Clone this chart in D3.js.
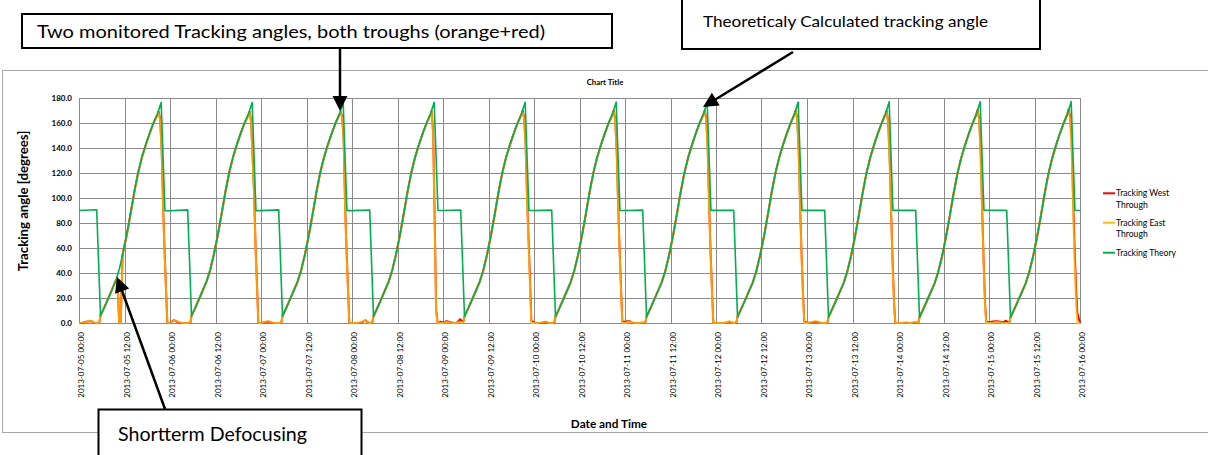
<!DOCTYPE html>
<html><head><meta charset="utf-8">
<script src="https://cdn.jsdelivr.net/npm/d3@7"></script>
<style>
html,body{margin:0;padding:0;background:#fff;}
svg{display:block;font-family:Lato,"Liberation Sans",sans-serif;}
</style></head><body>
<svg id="chart" width="1208" height="455"></svg>
<script>
// ---------- data ----------
const days = ["2013-07-05","2013-07-06","2013-07-07","2013-07-08","2013-07-09","2013-07-10",
              "2013-07-11","2013-07-12","2013-07-13","2013-07-14","2013-07-15"];
const endStamp = "2013-07-16 00:00";
const yTicks = [0,20,40,60,80,100,120,140,160,180];
const seriesNames = ["Tracking West Through","Tracking East Through","Tracking Theory"];

// hour of day of each theory sample
const theoryHours = [0,4.67,5.67,6.67,7.67,8.67,9.67,10.67,11.67,12.67,13.67,14.67,15.67,16.67,17.67,18.67,19.67,20.67,21.67,22.67];
const theoryDays = [
 [90,90.6,5.8,12.4,19.3,26.4,33.6,43.6,56.8,71.8,88.8,106.3,121.4,133.5,143.3,152.2,160.3,167.2,176.3,89.8],
 [89.8,90.5,5.6,12.2,19.1,26.2,33.4,43.3,56.4,71.4,88.4,106.0,121.2,133.3,143.1,152.1,160.2,167.1,176.4,89.9],
 [89.9,90.5,5.5,12.1,19.0,26.1,33.2,43.1,56.2,71.1,88.1,105.8,121.0,133.2,143.0,152.0,160.1,167.1,176.5,89.9],
 [89.9,90.4,5.3,11.9,18.8,25.9,33.0,42.9,55.9,70.8,87.8,105.5,120.8,133.0,142.9,151.9,160.0,167.0,176.6,90.0],
 [90.0,90.4,5.2,11.8,18.7,25.7,32.8,42.7,55.6,70.5,87.5,105.2,120.6,132.9,142.8,151.8,160.0,167.0,176.6,90.0],
 [90.0,90.3,5.0,11.6,18.5,25.5,32.6,42.4,55.3,70.2,87.2,105.0,120.4,132.7,142.7,151.7,159.9,167.0,176.7,90.0],
 [90.0,90.3,4.9,11.5,18.4,25.4,32.4,42.2,55.0,69.9,86.9,104.7,120.2,132.6,142.6,151.7,159.9,167.0,176.8,90.1],
 [90.1,90.2,4.8,11.4,18.2,25.2,32.2,42.0,54.8,69.6,86.6,104.4,120.0,132.4,142.5,151.6,159.8,167.0,176.8,90.1],
 [90.1,90.2,4.6,11.2,18.1,25.0,32.0,41.8,54.5,69.3,86.3,104.1,119.8,132.3,142.4,151.6,159.8,167.0,176.9,90.1],
 [90.1,90.1,4.5,11.1,17.9,24.8,31.8,41.6,54.2,69.0,86.0,103.8,119.6,132.1,142.3,151.5,159.8,167.1,177.0,90.2],
 [90.2,90.1,4.4,11.0,17.8,24.7,31.6,41.4,54.0,68.7,85.7,103.5,119.4,132.0,142.2,151.5,159.7,167.1,177.1,90.2]
];
const theoryEnd = 90;

// hour of day of each measured sample
const measHours = [0,1,2,3,3.5,4,4.5,5,5.4,5.67,6.67,7.67,8.67,9.67,10.2,10.6,11,11.5,12.67,13.67,14.67,15.67,16.67,17.67,18.67,19.67,20.67,21,21.4,21.8,22.2,22.6,23,23.3];
const eastDays = [
 [0,0.5,0.8,2.0,1.5,0.3,0,0,1.2,5.9,12.5,19.4,26.5,34.0,30.0,0,0,54.0,71.6,88.6,106.1,121.2,133.3,143.1,152.0,160.1,166.3,168.0,162.0,138.0,90.0,53.0,22.0,0],
 [0,1.8,1.2,0.3,0,0,0,0,0.8,5.7,12.3,19.2,26.3,33.5,38.6,42.3,47.8,53.7,71.3,88.3,105.8,121.0,133.1,143.0,151.9,160.0,166.2,168.1,160.0,130.0,100.0,56.0,25.0,0],
 [0,1.0,1.5,0.4,0,0,0,0,1.0,5.6,12.2,19.1,26.2,33.3,38.4,42.1,47.6,53.5,71.0,88.0,105.6,120.9,133.0,142.9,151.8,159.9,166.3,168.2,164.0,146.0,90.0,53.0,21.0,0],
 [0,0,0.3,1.6,1.8,0.5,0,0,1.0,5.4,12.0,18.9,26.0,33.1,38.2,41.9,47.3,53.2,70.7,87.7,105.3,120.7,132.9,142.8,151.8,159.9,166.5,168.6,150.0,80.0,8.0,0,0,0],
 [0,0.8,0.4,0,0,0.6,1.0,0.2,1.0,5.3,11.9,18.8,25.8,32.9,38.0,41.6,47.0,52.9,70.4,87.4,105.0,120.5,132.8,142.7,151.7,159.9,166.6,169.0,163.0,140.0,95.0,60.0,25.0,0],
 [0,0,0.5,1.2,0.6,0,0,0,0.8,5.1,11.7,18.6,25.6,32.7,37.8,41.3,46.7,52.6,70.1,87.1,104.8,120.3,132.6,142.6,151.6,159.8,166.6,169.0,162.0,138.0,92.0,55.0,22.0,0],
 [0,1.2,0.4,0,0,0,0.5,0.3,0.9,5.0,11.6,18.5,25.5,32.5,37.6,41.1,46.4,52.3,69.8,86.8,104.5,120.1,132.5,142.5,151.6,159.8,166.7,169.5,163.0,140.0,92.0,52.0,20.0,0],
 [0,0,0,0.6,1.4,0.8,0,0,0.8,4.9,11.5,18.3,25.3,32.3,37.4,40.9,46.2,52.1,69.5,86.5,104.2,119.9,132.3,142.4,151.5,159.7,166.7,169.5,163.0,138.0,90.0,50.0,18.0,0],
 [0,0.6,1.4,1.0,0.2,0,0,0,0.7,4.7,11.3,18.2,25.1,32.1,37.2,40.7,45.9,51.8,69.2,86.2,103.9,119.7,132.2,142.3,151.5,159.7,166.8,169.3,160.0,130.0,85.0,45.0,12.0,0],
 [0,0,0.4,0,0,0.5,0.9,0.2,0.7,4.6,11.2,18.0,24.9,31.9,37.0,40.5,45.7,51.5,68.9,85.9,103.6,119.5,132.0,142.2,151.4,159.7,166.9,169.8,162.0,135.0,88.0,45.0,10.0,0],
 [0,0.3,0.8,0.5,0,0,0,0,0.6,4.5,11.1,17.9,24.8,31.7,36.8,40.3,45.5,51.3,68.6,85.6,103.3,119.3,131.9,142.1,151.4,159.6,166.9,170.0,163.0,140.0,90.0,48.0,15.0,0]
];
const eastEnd = 0;
const westDays = [
 [0,0.2,1.0,1.6,1.2,0.2,0,0,1.0,5.9,12.5,19.4,26.5,34.0,31.0,0,0,55.0,71.6,88.6,106.1,121.2,133.3,143.1,152.0,160.1,166.4,169.0,163.0,139.0,92.0,55.0,23.0,0],
 [0,2.2,0.8,0.1,0,0,0,0,0.6,5.7,12.3,19.2,26.3,33.5,38.6,42.3,47.8,53.7,71.3,88.3,105.8,121.0,133.1,143.0,151.9,160.0,166.3,169.0,161.0,132.0,102.0,58.0,26.0,0],
 [0,0.6,1.2,0.2,0,0,0,0,0.8,5.6,12.2,19.1,26.2,33.3,38.4,42.1,47.6,53.5,71.0,88.0,105.6,120.9,133.0,142.9,151.8,159.9,166.4,169.0,165.0,147.0,92.0,55.0,23.0,0],
 [0,0,0.2,1.2,2.2,0.8,0,0,0.9,5.4,12.0,18.9,26.0,33.1,38.2,41.9,47.3,53.2,70.7,87.7,105.3,120.7,132.9,142.8,151.8,159.9,166.6,169.5,152.0,84.0,10.0,0,0,1.0],
 [0.5,1.5,0.6,0,0,1.2,3.0,1.5,1.2,5.3,11.9,18.8,25.8,32.9,38.0,41.6,47.0,52.9,70.4,87.4,105.0,120.5,132.8,142.7,151.7,159.9,166.7,170.0,164.0,142.0,98.0,64.0,30.0,2.0],
 [0.5,0,0.3,0.8,0.4,0,0,0,0.6,5.1,11.7,18.6,25.6,32.7,37.8,41.3,46.7,52.6,70.1,87.1,104.8,120.3,132.6,142.6,151.6,159.8,166.7,170.0,163.0,139.0,94.0,57.0,24.0,1.0],
 [1.0,1.6,0.2,0,0,0,0.3,0.1,0.8,5.0,11.6,18.5,25.5,32.5,37.6,41.1,46.4,52.3,69.8,86.8,104.5,120.1,132.5,142.5,151.6,159.8,166.8,170.0,164.0,141.0,93.0,54.0,22.0,0],
 [0,0,0,0.4,1.0,0.6,0,0,0.6,4.9,11.5,18.3,25.3,32.3,37.4,40.9,46.2,52.1,69.5,86.5,104.2,119.9,132.3,142.4,151.5,159.7,166.8,170.0,164.0,139.0,92.0,52.0,20.0,1.0],
 [0.3,0.4,1.0,0.8,0.1,0,0,0,0.5,4.7,11.3,18.2,25.1,32.1,37.2,40.7,45.9,51.8,69.2,86.2,103.9,119.7,132.2,142.3,151.5,159.7,166.9,170.0,161.0,132.0,87.0,47.0,14.0,0],
 [0,0,0.2,0,0,0.3,0.6,0.1,0.5,4.6,11.2,18.0,24.9,31.9,37.0,40.5,45.7,51.5,68.9,85.9,103.6,119.5,132.0,142.2,151.4,159.7,167.0,170.5,163.0,137.0,90.0,48.0,13.0,1.0],
 [0.5,1.2,1.5,1.0,0.5,1.0,1.8,0.6,0.8,4.5,11.1,17.9,24.8,31.7,36.8,40.3,45.5,51.3,68.6,85.6,103.3,119.3,131.9,142.1,151.4,159.6,167.0,171.0,165.0,145.0,98.0,58.0,25.0,8.0]
];
const westEnd = 0;

// ---------- build ----------
const parse = d3.utcParse("%Y-%m-%d %H:%M");
function build(dayArrays, hours, endVal){
  const pts = [];
  dayArrays.forEach((vals, d) => {
    const t0 = parse(days[d] + " 00:00").getTime();
    vals.forEach((v, i) => pts.push({t: new Date(t0 + hours[i] * 3600000), v: v}));
  });
  pts.push({t: parse(endStamp), v: endVal});
  return pts;
}
const west = build(westDays, measHours, westEnd);
const east = build(eastDays, measHours, eastEnd);
const theory = build(theoryDays, theoryHours, theoryEnd);

const svg = d3.select("#chart");
const L = 79, R = 1080, T = 98, B = 323;
const x = d3.scaleUtc().domain([parse(days[0] + " 00:00"), parse(endStamp)]).range([L, R]);
const y = d3.scaleLinear().domain([0, 180]).range([B, T]);
const gridCol = "#8a8a8a";

// outer chart frame
svg.append("rect").attr("x", 2.5).attr("y", 70.5).attr("width", 1230).attr("height", 362)
  .attr("fill", "none").attr("stroke", "#a6a6a6").attr("stroke-width", 1);

// title
svg.append("text").attr("x", 605).attr("y", 84.5).attr("text-anchor", "middle")
  .attr("font-size", 7.8).attr("font-weight", "bold").attr("fill", "#000").text("Chart Title");

// gridlines
const xTicks = d3.utcHour.every(12).range(parse(days[0] + " 00:00"), new Date(parse(endStamp).getTime() + 1));
svg.append("g").selectAll("line").data(yTicks).join("line")
  .attr("x1", L).attr("x2", R).attr("y1", d => Math.round(y(d)) + 0.5).attr("y2", d => Math.round(y(d)) + 0.5)
  .attr("stroke", gridCol).attr("stroke-width", 1);
svg.append("g").selectAll("line").data(xTicks).join("line")
  .attr("x1", d => Math.round(x(d)) + 0.5).attr("x2", d => Math.round(x(d)) + 0.5)
  .attr("y1", T).attr("y2", B)
  .attr("stroke", gridCol).attr("stroke-width", 1);

// axes
const yAxis = svg.append("g").attr("transform", `translate(${L},0)`)
  .call(d3.axisLeft(y).tickValues(yTicks).tickFormat(d3.format(".1f")).tickSize(0).tickPadding(7));
yAxis.select(".domain").attr("stroke", gridCol);
yAxis.selectAll("text").attr("font-family", "Lato,'Liberation Sans',sans-serif")
  .attr("font-size", 8).attr("font-weight", "bold").attr("fill", "#000");

const fmt = d3.utcFormat("%Y-%m-%d %H:%M");
const xAxis = svg.append("g").attr("transform", `translate(0,${B})`)
  .call(d3.axisBottom(x).tickValues(xTicks).tickFormat(fmt).tickSize(0));
xAxis.select(".domain").attr("stroke", gridCol);
xAxis.selectAll("text")
  .attr("x", 0).attr("y", 0).attr("dy", null)
  .attr("transform", "translate(4.5,9) rotate(-90)")
  .attr("text-anchor", "end")
  .attr("font-family", "Lato,'Liberation Sans',sans-serif")
  .attr("font-size", 8).attr("fill", "#000");

// axis titles
svg.append("text").attr("transform", "translate(25,201) rotate(-90)")
  .attr("text-anchor", "middle").attr("dominant-baseline", "middle")
  .attr("font-size", 13.2).attr("font-weight", "bold").attr("fill", "#000").text("Tracking angle [degrees]");
svg.append("text").attr("x", 609).attr("y", 427.5).attr("text-anchor", "middle")
  .attr("font-size", 11.8).attr("font-weight", "bold").attr("fill", "#000").text("Date and Time");

// series lines
const line = d3.line().x(d => x(d.t)).y(d => y(d.v));
const g = svg.append("g");
g.append("path").datum(west).attr("d", line).attr("fill", "none")
  .attr("stroke", "#ff0000").attr("stroke-width", 2).attr("stroke-linejoin", "round");
g.append("path").datum(east).attr("d", line).attr("fill", "none")
  .attr("stroke", "#ffc000").attr("stroke-opacity", 0.8).attr("stroke-width", 2).attr("stroke-linejoin", "round");
g.append("path").datum(theory).attr("d", line).attr("fill", "none")
  .attr("stroke", "#00b050").attr("stroke-width", 1.6).attr("stroke-linejoin", "round");

// legend
const legend = [
  {name: seriesNames[0], col: "#ff0000", y: 193.3, lines: ["Tracking West", "Through"]},
  {name: seriesNames[1], col: "#ffc000", y: 222.7, lines: ["Tracking East", "Through"]},
  {name: seriesNames[2], col: "#00b050", y: 252.7, lines: ["Tracking Theory"]}
];
const lg = svg.append("g");
legend.forEach(it => {
  lg.append("line").attr("x1", 1103).attr("x2", 1115).attr("y1", it.y).attr("y2", it.y)
    .attr("stroke", it.col).attr("stroke-width", 2);
  it.lines.forEach((s, i) => {
    lg.append("text").attr("x", 1116).attr("y", it.y + 3 + i * 11.5)
      .attr("font-size", 8.6).attr("fill", "#000").text(s);
  });
});

// annotations
function arrow(x1, y1, x2, y2){
  const dx = x2 - x1, dy = y2 - y1, len = Math.hypot(dx, dy);
  const ux = dx / len, uy = dy / len, hl = 15, hw = 7.5;
  const bx = x2 - ux * hl, by = y2 - uy * hl;
  svg.append("line").attr("x1", x1).attr("y1", y1).attr("x2", bx + ux * 2).attr("y2", by + uy * 2)
    .attr("stroke", "#000").attr("stroke-width", 2.5);
  svg.append("polygon").attr("points",
    `${x2},${y2} ${bx - uy * hw},${by + ux * hw} ${bx + uy * hw},${by - ux * hw}`).attr("fill", "#000");
}
function box(x0, y0, w, h, tx, ty, txt, fs, tl){
  svg.append("rect").attr("x", x0).attr("y", y0).attr("width", w).attr("height", h)
    .attr("fill", "#fff").attr("stroke", "#000").attr("stroke-width", 2);
  svg.append("text").attr("x", tx).attr("y", ty).attr("font-size", fs).attr("fill", "#000")
    .attr("textLength", tl).attr("lengthAdjust", "spacingAndGlyphs").text(txt);
}
box(22, 14, 590, 34, 37, 37.5, "Two monitored Tracking angles, both troughs (orange+red)", 18, 508);
arrow(340, 48, 340, 111);
box(682, -2, 358, 51, 703, 26.5, "Theoreticaly Calculated tracking angle", 16, 285);
arrow(793, 52, 703, 107);
box(98.5, 409.5, 263, 60, 118, 441, "Shortterm Defocusing", 18.5, 189);
arrow(165, 409, 117, 277);
</script>
</body></html>
